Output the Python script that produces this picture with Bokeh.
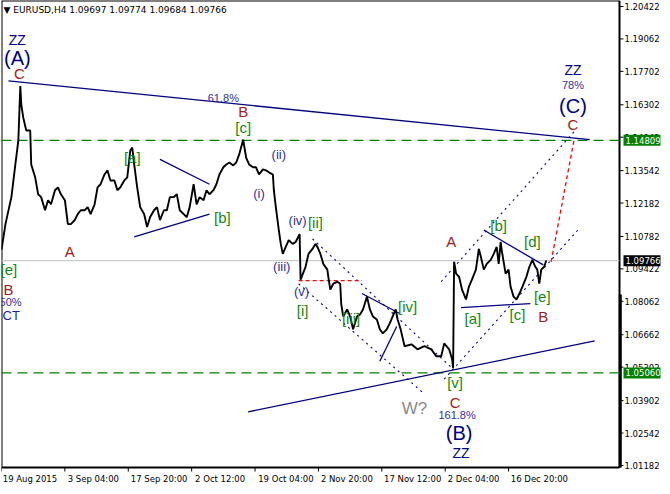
from bokeh.plotting import figure
from bokeh.models import (Label, FixedTicker, ColumnDataSource, Range1d,
                          PrintfTickFormatter, LinearAxis)
from bokeh.core.properties import value
from bokeh.embed import file_html
from bokeh.resources import INLINE

# ---- price path (H4 bars index, close) ----
bars = [0, 4, 10, 14, 17, 19, 20, 22, 25, 29, 30, 34, 37, 40, 44, 47, 50, 54, 57, 60,
        64, 67, 70, 74, 77, 80, 84, 87, 90, 94, 97, 100, 104, 107, 110, 114, 117, 120, 124, 127,
        130, 132, 134, 137, 140, 144, 147, 150, 154, 157, 160, 164, 167, 170, 174, 177, 180, 184, 187, 190,
        194, 197, 200, 204, 207, 210, 214, 217, 220, 224, 227, 230, 234, 237, 240, 244, 247, 250, 254, 257,
        260, 264, 267, 270, 274, 275, 277, 280, 282, 284, 287, 290, 294, 297, 301, 302, 307, 310, 314, 317,
        319, 322, 325, 329, 330, 332, 335, 339, 342, 343, 345, 349, 352, 355, 359, 362, 365, 369, 372, 375,
        379, 382, 385, 389, 392, 395, 398, 400, 403, 407, 414, 420, 427, 434, 439, 444, 447, 452, 455, 456,
        457, 459, 462, 465, 469, 472, 475, 479, 482, 484, 487, 490, 494, 497, 500, 502, 504, 505, 509, 512,
        514, 517, 520, 523, 526, 530, 533, 536, 539, 541, 543, 545, 548, 550]
close = [1.1022, 1.1130, 1.1243, 1.1380, 1.1480, 1.1709, 1.1630, 1.1576, 1.1522, 1.1522, 1.1380, 1.1326, 1.1255, 1.1243, 1.1188, 1.1230, 1.1213, 1.1272, 1.1284, 1.1255,
         1.1230, 1.1130, 1.1130, 1.1147, 1.1172, 1.1188, 1.1188, 1.1201, 1.1172, 1.1213, 1.1284, 1.1297, 1.1338, 1.1355, 1.1313, 1.1313, 1.1272, 1.1284, 1.1313, 1.1326,
         1.1438, 1.1451, 1.1380, 1.1284, 1.1201, 1.1172, 1.1118, 1.1159, 1.1188, 1.1201, 1.1147, 1.1188, 1.1188, 1.1243, 1.1243, 1.1255, 1.1188, 1.1172, 1.1159, 1.1201,
         1.1297, 1.1213, 1.1243, 1.1230, 1.1272, 1.1255, 1.1272, 1.1297, 1.1338, 1.1368, 1.1380, 1.1388, 1.1376, 1.1388, 1.1422, 1.1484, 1.1409, 1.1380, 1.1368, 1.1368,
         1.1338, 1.1359, 1.1355, 1.1347, 1.1338, 1.1272, 1.1201, 1.1105, 1.1047, 1.1005, 1.1034, 1.1063, 1.1047, 1.1055, 1.1088, 1.0897, 1.0951, 1.1005, 1.1026, 1.1047,
         1.1034, 1.1005, 1.0963, 1.0939, 1.0909, 1.0855, 1.0880, 1.0888, 1.0880, 1.0797, 1.0743, 1.0772, 1.0743, 1.0689, 1.0743, 1.0751, 1.0772, 1.0826, 1.0772, 1.0743,
         1.0730, 1.0689, 1.0672, 1.0689, 1.0714, 1.0743, 1.0772, 1.0730, 1.0689, 1.0618, 1.0626, 1.0605, 1.0618, 1.0605, 1.0576, 1.0576, 1.0630, 1.0605, 1.0564, 1.0526,
         1.0972, 1.0922, 1.0909, 1.0855, 1.0814, 1.0868, 1.0897, 1.0939, 1.1026, 1.0993, 1.0939, 1.0963, 1.0980, 1.1005, 1.1034, 1.0963, 1.1055, 1.1022, 1.0922, 1.0939,
         1.0868, 1.0826, 1.0814, 1.0839, 1.0868, 1.0909, 1.0951, 1.0980, 1.0951, 1.0939, 1.0880, 1.0939, 1.0951, 1.0977]

# ---- axis ticks ----
x_ticks = [0, 64, 128, 192, 256, 320, 384, 448, 512]
x_labels = ["19 Aug 2015", "3 Sep 04:00", "17 Sep 20:00", "2 Oct 12:00", "19 Oct 04:00",
            "2 Nov 20:00", "17 Nov 12:00", "2 Dec 04:00", "16 Dec 20:00"]
y_ticks = [1.01182, 1.02542, 1.03902, 1.05302, 1.06662, 1.08062, 1.09422, 1.10782,
           1.12182, 1.13542, 1.14942, 1.16302, 1.17702, 1.19062, 1.20422]

# ---- chart window (bar slot 624 = price scale line) ----
chart_end = 624
y_lo, y_hi = 1.01097, 1.20672
tick_len = 0.0017          # time-axis tick mark length (price units)
y_ext = 0.0021             # room below the chart for the time tick marks

# ---- horizontal levels ----
level_target = 1.14809
level_low = 1.05060
level_last = 1.09766

# ---- trend lines (bar, price) ----
solid_x0 = [7, 249, 160, 134, 487, 464, 364, 382]
solid_y0 = [1.1730, 1.0343, 1.1401, 1.1076, 1.1105, 1.0780, 1.0839, 1.0555]
solid_x1 = [594, 599, 210, 210, 547, 534, 402, 399]
solid_y1 = [1.1484, 1.0640, 1.1297, 1.1172, 1.0959, 1.0797, 1.0755, 1.0701]

dot_x0 = [444, 447, 314, 300]
dot_y0 = [1.0889, 1.0480, 1.1068, 1.0880]
dot_x1 = [580, 582, 455, 427]
dot_y1 = [1.1526, 1.1105, 1.0526, 1.0418]

red_x0 = [300, 555]
red_y0 = [1.0893, 1.0972]
red_x1 = [364, 578]
red_y1 = [1.0893, 1.1481]

# ---- wave labels ----
red_lab_x = [18, 69, 244, 458, 454, 547, 577, 7]
red_lab_y = [1.1763, 1.1013, 1.1601, 1.0384, 1.1059, 1.0743, 1.1547, 1.0855]
red_lab_t = ["C", "A", "B", "C", "A", "B", "C", "B"]

grn_lab_x = [132, 223, 244, 317, 304, 353, 410, 458, 476, 502, 521, 536, 546]
grn_lab_y = [1.1409, 1.1159, 1.1534, 1.1138, 1.0768, 1.0734, 1.0784, 1.0468, 1.0734, 1.1122, 1.0751, 1.1055, 1.0826]
grn_lab_t = ["[a]", "[b]", "[c]", "[ii]", "[i]", "[iii]", "[iv]", "[v]", "[a]", "[b]", "[c]", "[d]", "[e]"]

rom_lab_x = [280, 260, 299, 283, 303]
rom_lab_y = [1.1422, 1.1259, 1.1147, 1.0951, 1.0847]
rom_lab_t = ["(ii)", "(i)", "(iv)", "(iii)", "(v)"]

big_lab_x = [16, 462, 577]
big_lab_y = [1.1826, 1.0255, 1.1626]
big_lab_t = ["(A)", "(B)", "(C)"]

zz_lab_x = [16, 464, 577]
zz_lab_y = [1.1901, 1.0172, 1.1776]
zz_lab_t = ["ZZ", "ZZ", "ZZ"]

pct_lab_x = [224, 460, 577]
pct_lab_y = [1.1659, 1.0330, 1.1713]
pct_lab_t = ["61.8%", "161.8%", "78%"]

NAVY = "#000080"
RED = "#A0201C"
GREEN = "#12890F"
ROMAN = "#30309A"
LEVEL_GREEN = "#008000"
FONT = value("Liberation Sans")

p = figure(width=662, height=486, x_range=Range1d(0, 665.4), y_range=Range1d(y_lo - y_ext, y_hi),
           y_axis_location="right", x_axis_location=None, toolbar_location=None, output_backend="svg",
           min_border_left=1, min_border_top=0, min_border_right=0, min_border_bottom=0)
p.background_fill_color = "white"
p.border_fill_color = "white"
p.outline_line_color = None
p.xgrid.visible = False
p.ygrid.visible = False

# time axis: labels placed to the right of each tick (MT4 style)
px_per_bar = 611 / 624
lab_centers = [t + (len(l) * 4.75 / 2 + 2) / px_per_bar for t, l in zip(x_ticks, x_labels)]
xb = LinearAxis(ticker=FixedTicker(ticks=lab_centers))
xb.major_label_overrides = {c: l for c, l in zip(lab_centers, x_labels)}
xb.major_tick_line_color = None
xb.minor_tick_line_color = None
xb.axis_line_color = None
xb.major_tick_out = 0
xb.major_tick_in = 0
xb.major_label_standoff = 1
xb.major_label_text_font = "DejaVu Sans"
xb.major_label_text_font_size = "8.5px"
xb.major_label_text_color = "black"
p.add_layout(xb, "below")

# right price scale: labels drawn by the axis, pulled back over the scale column
ya = p.yaxis[0]
ya.ticker = FixedTicker(ticks=y_ticks)
ya.formatter = PrintfTickFormatter(format="%.5f")
ya.minor_tick_line_color = None
ya.major_tick_line_color = None
ya.major_tick_in = 0
ya.major_tick_out = 0
ya.axis_line_color = None
ya.major_label_text_font = "DejaVu Sans"
ya.major_label_text_font_size = "8.5px"
ya.major_label_text_color = "black"
ya.major_label_standoff = -36

# chart frame (left, top, bottom edges and price-scale line)
p.segment([0, 0, 0, chart_end], [y_lo, y_hi, y_lo, y_lo], [0, chart_end, chart_end, chart_end],
          [y_hi, y_hi, y_lo, y_hi], line_color="black", line_width=2)
p.segment([chart_end + 0.8], [y_lo], [chart_end + 0.8], [1.0835], line_color="black", line_width=3)
p.segment([chart_end] * len(y_ticks), y_ticks, [chart_end + 4] * len(y_ticks), y_ticks,
          line_color="black", line_width=1)
p.segment(x_ticks, [y_lo] * len(x_ticks), x_ticks, [y_lo - tick_len] * len(x_ticks),
          line_color="black", line_width=1)

# levels
p.segment([0], [level_last], [chart_end], [level_last], line_color="#C0C0C0", line_width=1)
p.segment([0, 0], [level_target, level_low], [chart_end, chart_end], [level_target, level_low],
          line_color=LEVEL_GREEN, line_width=1.3, line_dash="10 6")

# trend lines
p.segment(solid_x0, solid_y0, solid_x1, solid_y1, line_color=NAVY, line_width=1.3)
p.segment(dot_x0, dot_y0, dot_x1, dot_y1, line_color=NAVY, line_width=1.1, line_dash="2 4")
p.segment(red_x0, red_y0, red_x1, red_y1, line_color="#FF0000", line_width=1.3, line_dash="4 3")

# price
p.line(bars, close, line_color="black", line_width=1.9)

def labels(xs, ys, ts, color, size, align="center"):
    src = ColumnDataSource(dict(x=xs, y=ys, t=ts))
    p.text("x", "y", text="t", source=src, text_color=color, text_font=FONT,
           text_font_size=size, text_align=align, text_baseline="middle")

labels(red_lab_x, red_lab_y, red_lab_t, RED, "15px")
labels(grn_lab_x, grn_lab_y, grn_lab_t, GREEN, "15px")
labels(rom_lab_x, rom_lab_y, rom_lab_t, ROMAN, "13px")
labels(big_lab_x, big_lab_y, big_lab_t, NAVY, "20px")
labels(zz_lab_x, zz_lab_y, zz_lab_t, NAVY, "14px")
labels(pct_lab_x, pct_lab_y, pct_lab_t, ROMAN, "11px")
labels([417], [1.0355], ["W?"], "#8A8A8A", "17px")
labels([-1], [1.0938], ["[e]"], GREEN, "15px", "left")
labels([-2], [1.0805], ["50%"], ROMAN, "11px", "left")
labels([1], [1.0747], ["CT"], "#1C1CB0", "13px", "left")

# title
p.text([2], [1.2026], text=["\u25BC EURUSD,H4  1.09697 1.09774 1.09684 1.09766"], text_color="black",
       text_font=value("DejaVu Sans"), text_font_size="9px", text_align="left", text_baseline="middle")

# price tags on the scale
for lv, bg in ((level_target, LEVEL_GREEN), (level_last, "black"), (level_low, LEVEL_GREEN)):
    p.add_layout(Label(x=chart_end, y=lv, text=f"{lv:.5f}", x_offset=4, text_color="white",
                       text_font="DejaVu Sans", text_font_size="8.5px", text_baseline="middle",
                       text_align="left", background_fill_color=bg, padding=2))

open("out.html", "w").write(file_html(p, INLINE))
